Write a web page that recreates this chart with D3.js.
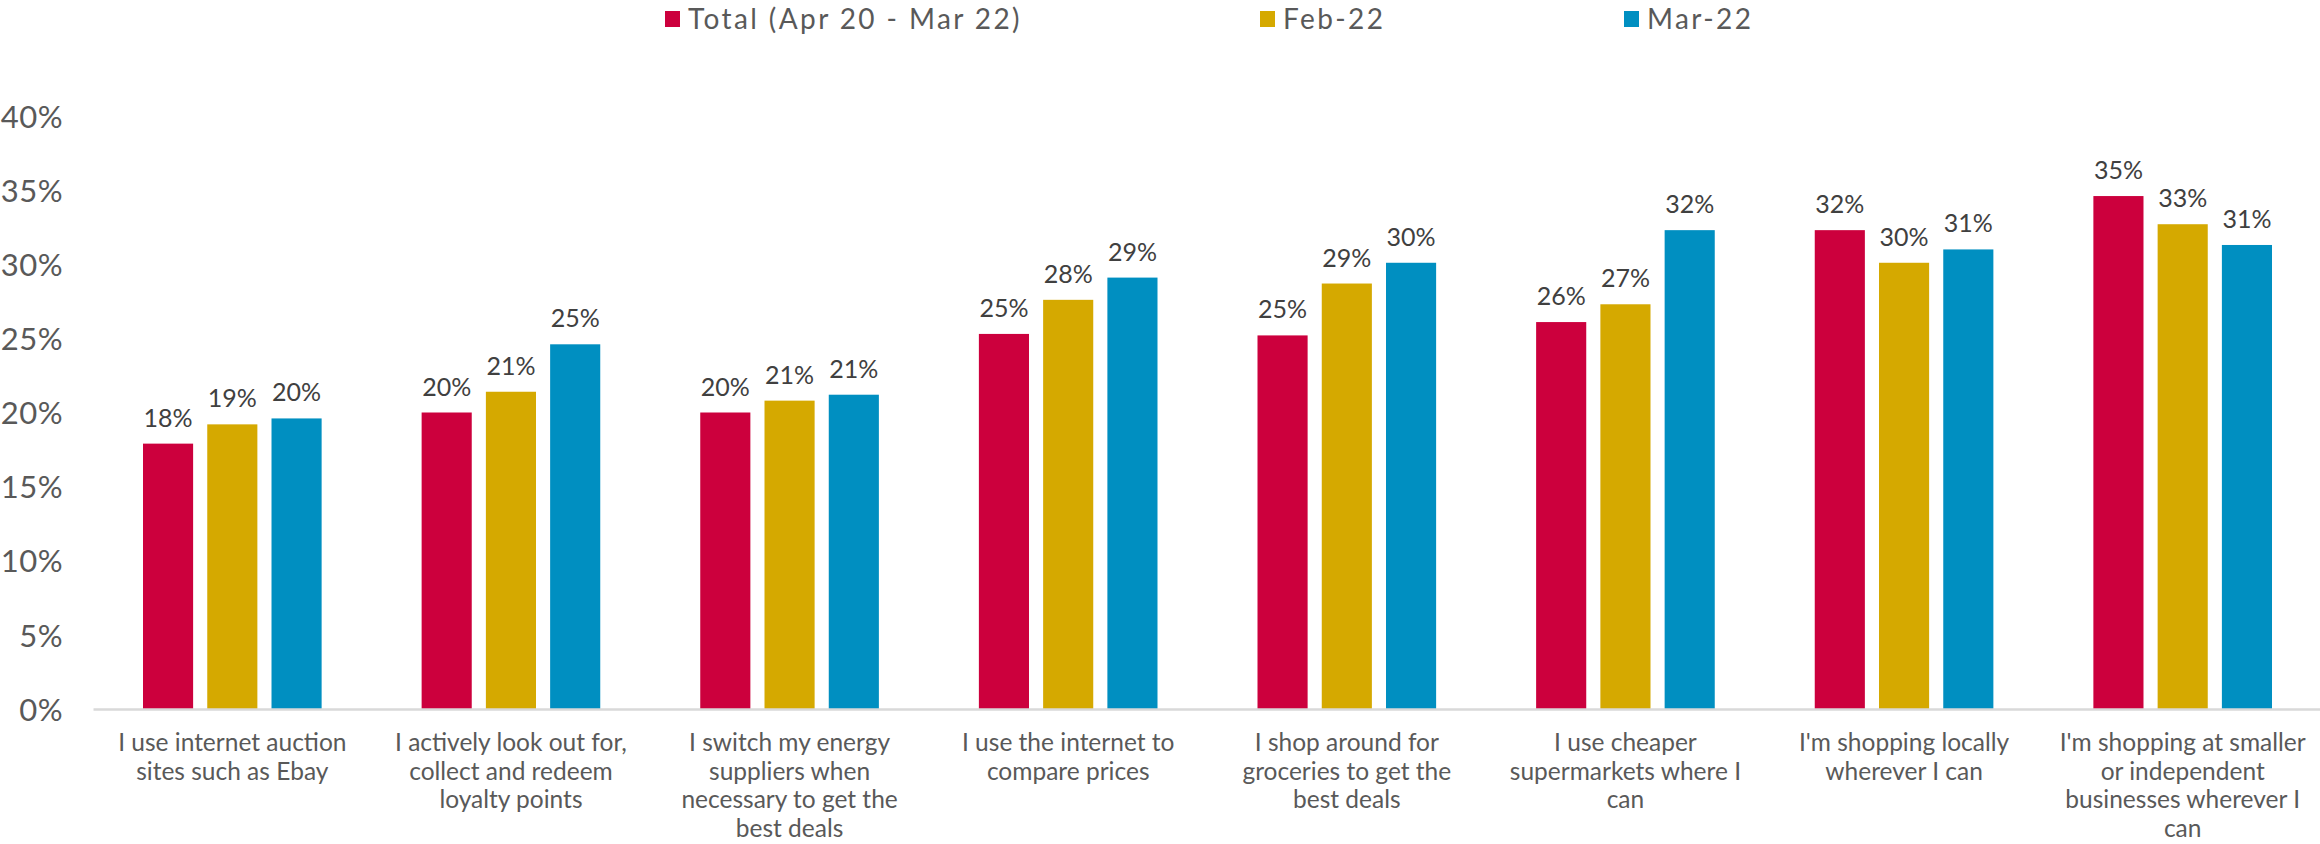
<!DOCTYPE html>
<html>
<head>
<meta charset="utf-8">
<script src="https://cdn.jsdelivr.net/npm/d3@7"></script>
<style>
  html, body { margin: 0; padding: 0; background: #ffffff; }
  svg { display: block; font-family: "Lato", "Open Sans", sans-serif; }
</style>
</head>
<body>
<svg id="chart" width="2320" height="844"></svg>
<script>
// Survey statements (axis labels are split into the lines shown under each group)
const categories = [
  "I use internet auction sites such as Ebay",
  "I actively look out for, collect and redeem loyalty points",
  "I switch my energy suppliers when necessary to get the best deals",
  "I use the internet to compare prices",
  "I shop around for groceries to get the best deals",
  "I use cheaper supermarkets where I can",
  "I'm shopping locally wherever I can",
  "I'm shopping at smaller or independent businesses wherever I can"
];
const categoryLines = [
  ["I use internet auction", "sites such as Ebay"],
  ["I actively look out for,", "collect and redeem", "loyalty points"],
  ["I switch my energy", "suppliers when", "necessary to get the", "best deals"],
  ["I use the internet to", "compare prices"],
  ["I shop around for", "groceries to get the", "best deals"],
  ["I use cheaper", "supermarkets where I", "can"],
  ["I'm shopping locally", "wherever I can"],
  ["I'm shopping at smaller", "or independent", "businesses wherever I", "can"]
];

const seriesNames = ["Total (Apr 20 - Mar 22)", "Feb-22", "Mar-22"];
const seriesColors = ["#CC003D", "#D5A900", "#008FC1"];

// Share of respondents agreeing, per statement
const totalValues = [0.179, 0.200, 0.200, 0.253, 0.252, 0.261, 0.323, 0.346];
const feb22Values = [0.192, 0.214, 0.208, 0.276, 0.287, 0.273, 0.301, 0.327];
const mar22Values = [0.196, 0.246, 0.212, 0.291, 0.301, 0.323, 0.310, 0.313];
const seriesValues = [totalValues, feb22Values, mar22Values];

const yTickValues = [0, 0.05, 0.10, 0.15, 0.20, 0.25, 0.30, 0.35, 0.40];

const svg = d3.select("#chart");

const plotLeft = 93, plotRight = 2322;
const plotBottom = 709, plotTop = 116;

const x0 = d3.scaleBand()
  .domain(d3.range(categories.length))
  .range([plotLeft, plotRight])
  .padding(0);

const groupPad = 50;
const x1 = d3.scaleBand()
  .domain(d3.range(seriesNames.length))
  .range([groupPad, x0.bandwidth() - groupPad])
  .paddingInner(0.22)
  .paddingOuter(0);

const y = d3.scaleLinear().domain([0, 0.4]).range([plotBottom, plotTop]);
const pct = d3.format(".0%");

// Y axis labels (no axis line, no ticks)
const yAxis = svg.append("g")
  .attr("transform", `translate(63,0)`)
  .call(d3.axisLeft(y).tickValues(yTickValues).tickFormat(pct).tickSize(0).tickPadding(0));
yAxis.select(".domain").remove();
yAxis.selectAll("text")
  .attr("font-family", "Lato, sans-serif")
  .attr("font-size", 31)
  .attr("letter-spacing", 0.5)
  .attr("fill", "#595959")
  .attr("dy", "0.36em");

// Bars
const groups = svg.append("g").selectAll("g")
  .data(categories.map((c, i) => i))
  .join("g")
  .attr("transform", i => `translate(${x0(i)},0)`);

groups.selectAll("rect")
  .data(i => seriesValues.map((vals, s) => ({ s, v: vals[i] })))
  .join("rect")
  .attr("x", d => x1(d.s))
  .attr("width", x1.bandwidth())
  .attr("y", d => y(d.v))
  .attr("height", d => y(0) - y(d.v))
  .attr("fill", d => seriesColors[d.s]);

// Value labels above bars
groups.selectAll("text.val")
  .data(i => seriesValues.map((vals, s) => ({ s, v: vals[i] })))
  .join("text")
  .attr("class", "val")
  .attr("x", d => x1(d.s) + x1.bandwidth() / 2)
  .attr("y", d => y(d.v) - 17)
  .attr("text-anchor", "middle")
  .attr("font-family", "Lato, sans-serif")
  .attr("font-size", 25)
  .attr("fill", "#404040")
  .text(d => pct(d.v));

// X axis baseline and wrapped category labels
const xAxis = svg.append("g")
  .attr("transform", `translate(0,${plotBottom})`)
  .call(d3.axisBottom(x0).tickSize(0).tickSizeOuter(0).tickFormat(""));
xAxis.select(".domain").attr("stroke", "#D9D9D9").attr("stroke-width", 2.5);
xAxis.selectAll(".tick text").remove();
xAxis.selectAll(".tick").each(function (i) {
  const t = d3.select(this).append("text")
    .attr("text-anchor", "middle")
    .attr("font-family", "Lato, sans-serif")
    .attr("font-size", 24.5)
    .attr("fill", "#595959");
  categoryLines[i].forEach((line, k) => {
    t.append("tspan").attr("x", 0).attr("y", 42 + k * 28.7).text(line);
  });
});

// Legend
const legendX = [665, 1260, 1624];
const legend = svg.append("g").selectAll("g")
  .data(seriesNames)
  .join("g")
  .attr("transform", (d, i) => `translate(${legendX[i]},0)`);
legend.append("rect")
  .attr("x", 0).attr("y", 11).attr("width", 15).attr("height", 16)
  .attr("fill", (d, i) => seriesColors[i]);
legend.append("text")
  .attr("x", 23).attr("y", 29)
  .attr("font-family", "Lato, sans-serif")
  .attr("font-size", 28)
  .attr("letter-spacing", 2.4)
  .attr("fill", "#595959")
  .text(d => d);
</script>
</body>
</html>
